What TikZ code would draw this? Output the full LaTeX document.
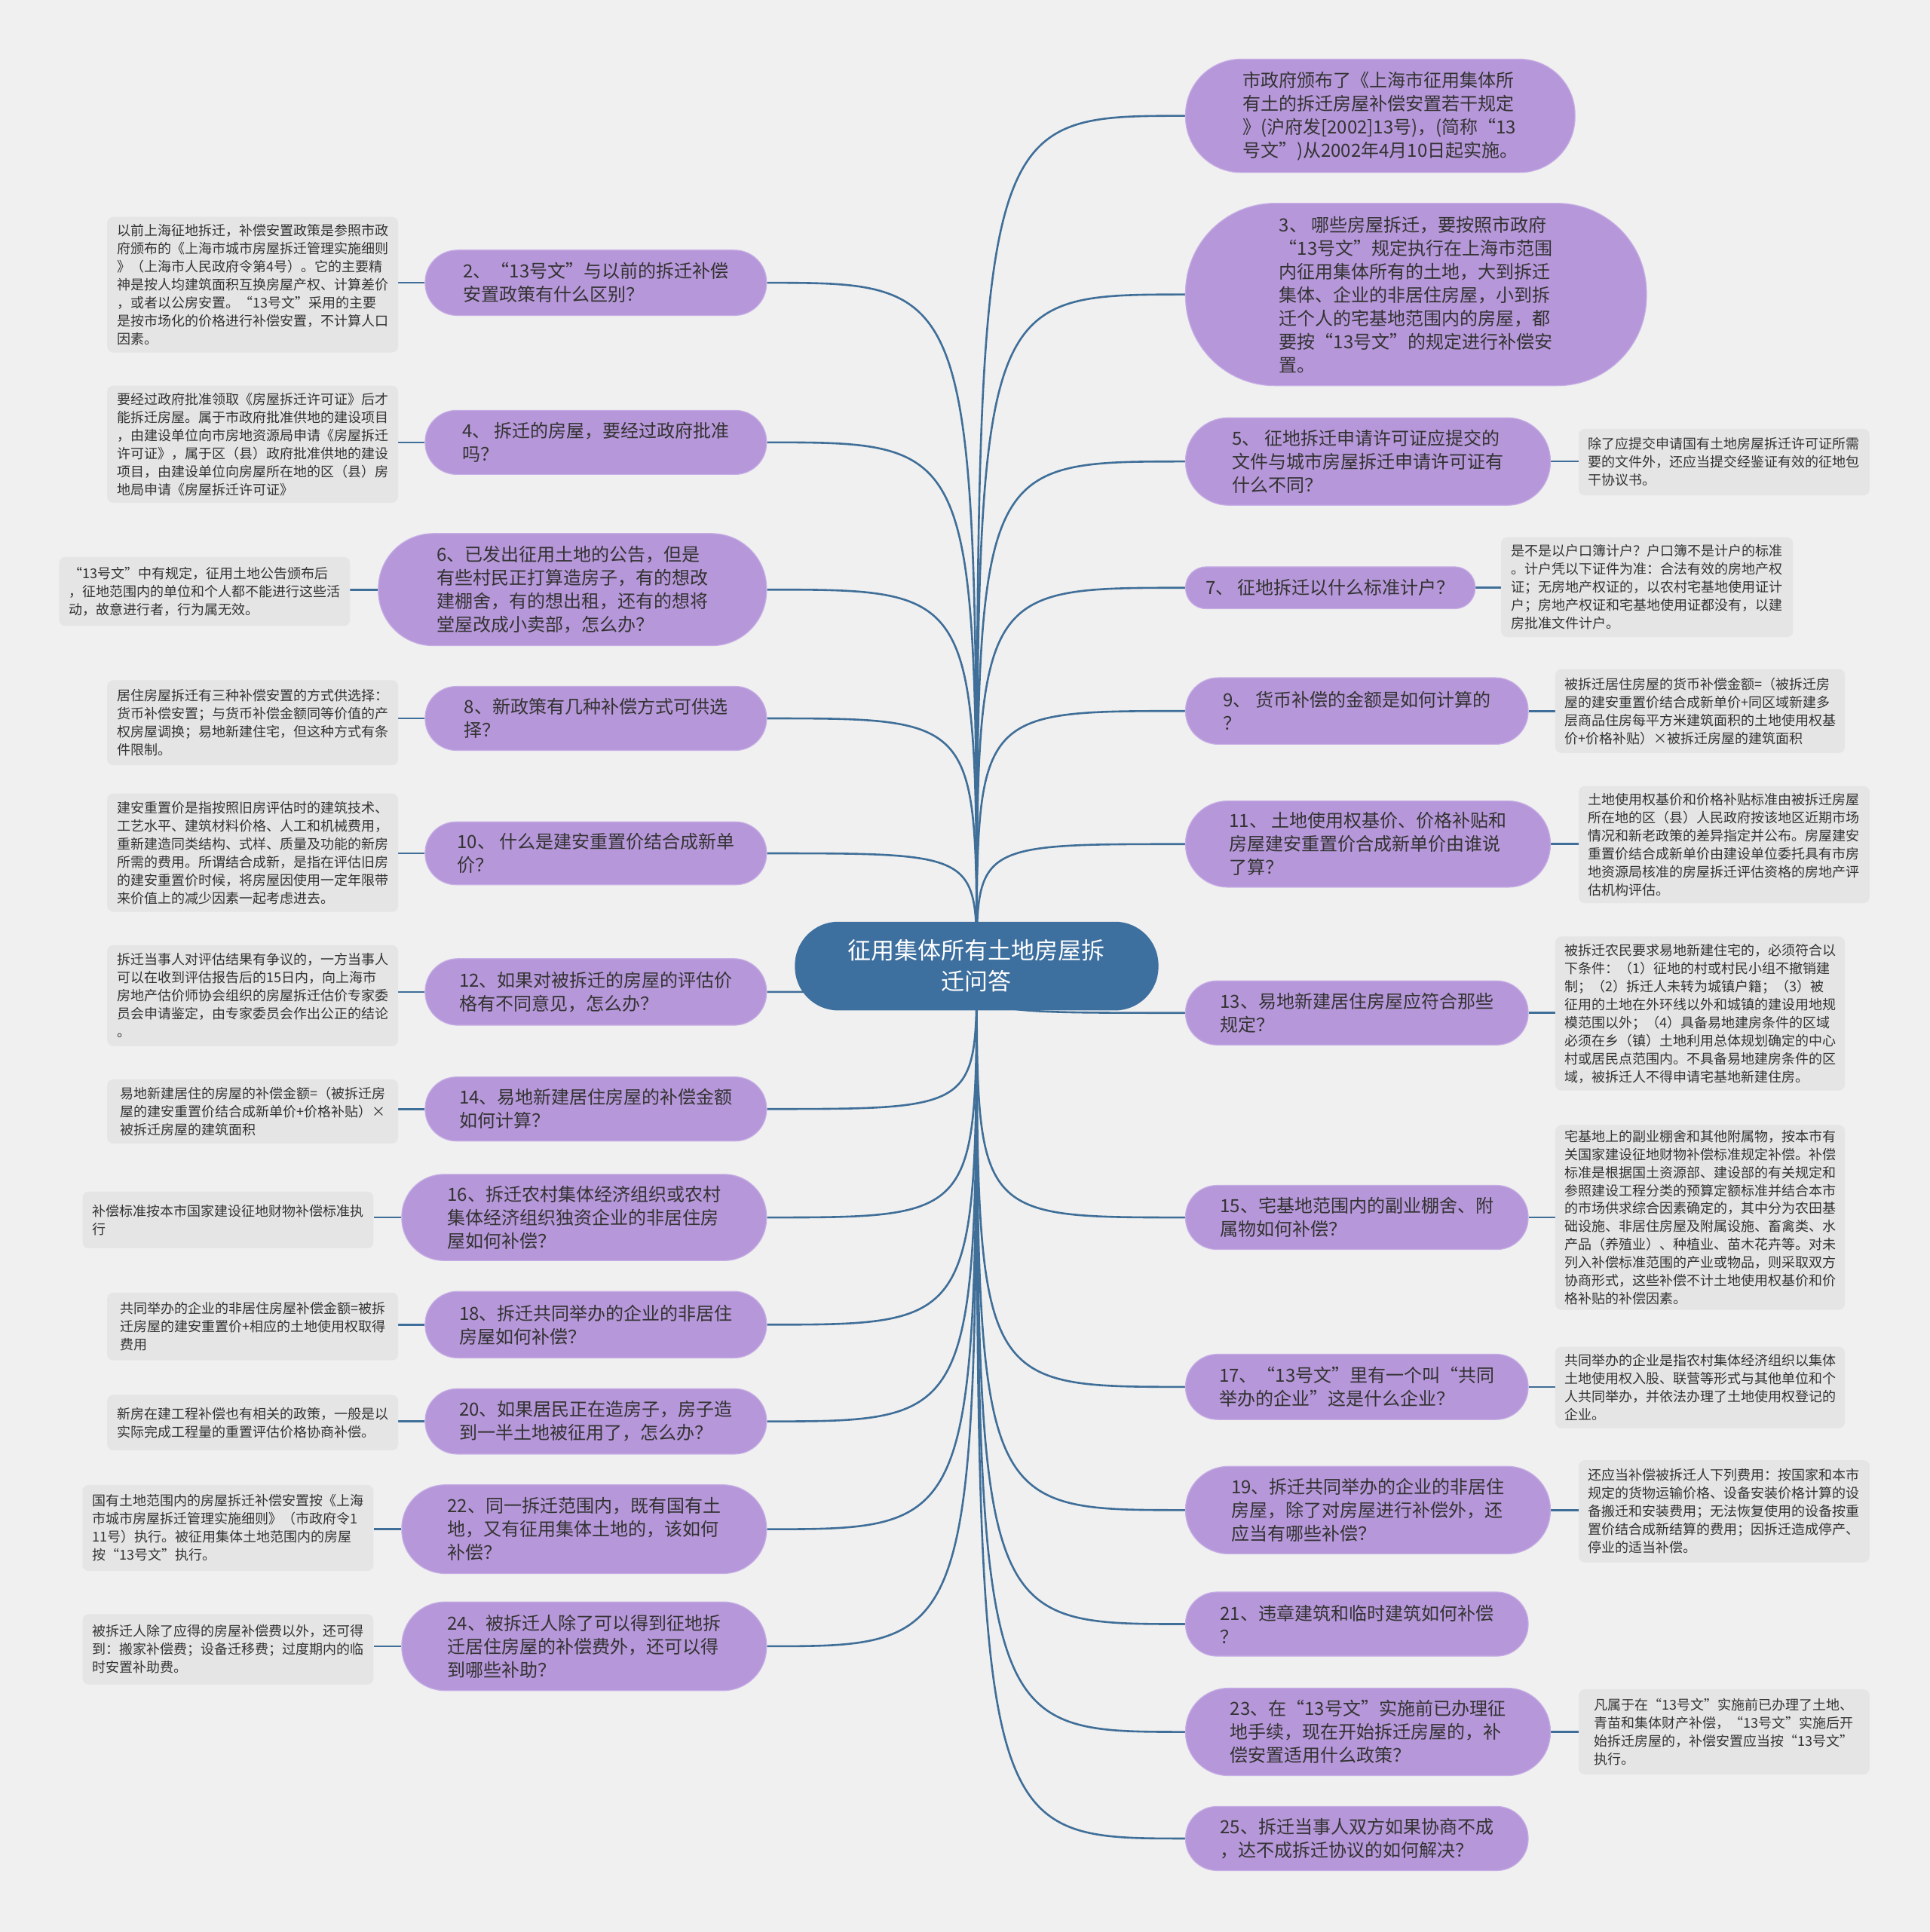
\documentclass[tikz,border=0pt]{standalone}
\usepackage{fontspec}
\setmainfont{Noto Sans CJK SC}
\definecolor{bgc}{HTML}{F0F0F0}
\definecolor{purp}{HTML}{B697D9}
\definecolor{purpline}{HTML}{C6AEE5}
\definecolor{notec}{HTML}{E5E5E5}
\definecolor{hubc}{HTML}{3D6F9F}
\definecolor{wirec}{HTML}{3F6E98}
\definecolor{txt}{HTML}{333333}
\pgfdeclarelayer{bglayer}
\pgfdeclarelayer{wirelayer}
\pgfsetlayers{bglayer,wirelayer,main}
\tikzset{
  qbox/.style 2 args={rectangle, fill=purp, draw=purpline, line width=1.2pt,
    minimum width=#1*1.63474pt, minimum height=#2*1.63474pt,
    rounded corners=#2*0.49*1.63474pt, inner sep=0pt, align=left, text=txt,
    font=\fontsize{24}{31}\selectfont},
  notebox/.style 2 args={rectangle, fill=notec,
    minimum width=#1*1.63474pt, minimum height=#2*1.63474pt,
    rounded corners=8pt, inner sep=0pt, align=left, text=txt,
    font=\fontsize{18}{24}\selectfont},
  hubbox/.style 2 args={rectangle, fill=hubc,
    minimum width=#1*1.63474pt, minimum height=#2*1.63474pt,
    rounded corners=#2*0.49*1.63474pt, inner sep=0pt, align=center, text=white,
    font=\fontsize{31}{41}\selectfont},
  wire/.style={draw=wirec, line width=2.6pt}
}
\begin{document}
\begin{tikzpicture}[x=1.63474pt,y=-1.63474pt]

\begin{pgfonlayer}{bglayer}
\fill[bgc] (0,0) rectangle (1566,1567.9);
\end{pgfonlayer}
\useasboundingbox (0,0) rectangle (1566,1567.9);

% hub
\node[hubbox={295}{72}] (hub) at (792.5,784) {征用集体所有土地房屋拆\\迁问答};

% right branches
\node[qbox={316}{92}] (r1) at (1120,94) {市政府颁布了《上海市征用集体所\\有土的拆迁房屋补偿安置若干规定\\》(沪府发[2002]13号)，(简称“13\\号文”)从2002年4月10日起实施。};
\node[qbox={374}{148}] (r3) at (1149,239) {3、 哪些房屋拆迁，要按照市政府\\“13号文”规定执行在上海市范围\\内征用集体所有的土地，大到拆迁\\集体、企业的非居住房屋，小到拆\\迁个人的宅基地范围内的房屋，都\\要按“13号文”的规定进行补偿安\\置。};
\node[qbox={296}{71}] (r5) at (1110,374.5) {5、 征地拆迁申请许可证应提交的\\文件与城市房屋拆迁申请许可证有\\什么不同？};
\node[qbox={235}{34}] (r7) at (1079.5,477) {7、 征地拆迁以什么标准计户？};
\node[qbox={278}{54}] (r9) at (1101,577) {9、 货币补偿的金额是如何计算的\\？};
\node[qbox={296}{70}] (r11) at (1110,685) {11、 土地使用权基价、价格补贴和\\房屋建安重置价合成新单价由谁说\\了算？};
\node[qbox={278}{52}] (r13) at (1101,822) {13、易地新建居住房屋应符合那些\\规定？};
\node[qbox={278}{52}] (r15) at (1101,988) {15、宅基地范围内的副业棚舍、附\\属物如何补偿？};
\node[qbox={278}{53}] (r17) at (1101,1125.5) {17、“13号文”里有一个叫“共同\\举办的企业”这是什么企业？};
\node[qbox={296}{71}] (r19) at (1110,1225.5) {19、拆迁共同举办的企业的非居住\\房屋，除了对房屋进行补偿外，还\\应当有哪些补偿？};
\node[qbox={278}{52}] (r21) at (1101,1318) {21、违章建筑和临时建筑如何补偿\\？};
\node[qbox={296}{71}] (r23) at (1110,1405.5) {23、在“13号文”实施前已办理征\\地手续，现在开始拆迁房屋的，补\\偿安置适用什么政策？};
\node[qbox={278}{52}] (r25) at (1101,1492) {25、拆迁当事人双方如果协商不成\\，达不成拆迁协议的如何解决？};

% left branches
\node[qbox={277}{53}] (l2) at (483.5,229.5) {2、“13号文”与以前的拆迁补偿\\安置政策有什么区别？};
\node[qbox={277}{52}] (l4) at (483.5,359) {4、 拆迁的房屋，要经过政府批准\\吗？};
\node[qbox={315}{91}] (l6) at (464.5,478.5) {6、已发出征用土地的公告，但是\\有些村民正打算造房子，有的想改\\建棚舍，有的想出租，还有的想将\\堂屋改成小卖部，怎么办？};
\node[qbox={277}{52}] (l8) at (483.5,583) {8、新政策有几种补偿方式可供选\\择？};
\node[qbox={277}{51}] (l10) at (483.5,692.5) {10、 什么是建安重置价结合成新单\\价？};
\node[qbox={277}{54}] (l12) at (483.5,805) {12、如果对被拆迁的房屋的评估价\\格有不同意见，怎么办？};
\node[qbox={277}{52}] (l14) at (483.5,900) {14、易地新建居住房屋的补偿金额\\如何计算？};
\node[qbox={296}{70}] (l16) at (474,988) {16、拆迁农村集体经济组织或农村\\集体经济组织独资企业的非居住房\\屋如何补偿？};
\node[qbox={277}{54}] (l18) at (483.5,1075) {18、拆迁共同举办的企业的非居住\\房屋如何补偿？};
\node[qbox={277}{53}] (l20) at (483.5,1153.5) {20、如果居民正在造房子，房子造\\到一半土地被征用了，怎么办？};
\node[qbox={296}{72}] (l22) at (474,1241) {22、同一拆迁范围内，既有国有土\\地，又有征用集体土地的，该如何\\补偿？};
\node[qbox={296}{72}] (l24) at (474,1336) {24、被拆迁人除了可以得到征地拆\\迁居住房屋的补偿费外，还可以得\\到哪些补助？};

% right notes
\node[notebox={236}{54}] (n5) at (1399,375) {除了应提交申请国有土地房屋拆迁许可证所需\\要的文件外，还应当提交经鉴证有效的征地包\\干协议书。};
\node[notebox={237}{81}] (n7) at (1336.5,476.5) {是不是以户口簿计户？户口簿不是计户的标准\\。计户凭以下证件为准：合法有效的房地产权\\证；无房地产权证的，以农村宅基地使用证计\\户；房地产权证和宅基地使用证都没有，以建\\房批准文件计户。};
\node[notebox={235}{68}] (n9) at (1379.5,577) {被拆迁居住房屋的货币补偿金额=（被拆迁房\\屋的建安重置价结合成新单价+同区域新建多\\层商品住房每平方米建筑面积的土地使用权基\\价+价格补贴）×被拆迁房屋的建筑面积};
\node[notebox={236}{95}] (n11) at (1399,685.5) {土地使用权基价和价格补贴标准由被拆迁房屋\\所在地的区（县）人民政府按该地区近期市场\\情况和新老政策的差异指定并公布。房屋建安\\重置价结合成新单价由建设单位委托具有市房\\地资源局核准的房屋拆迁评估资格的房地产评\\估机构评估。};
\node[notebox={235}{125}] (n13) at (1379.5,822.5) {被拆迁农民要求易地新建住宅的，必须符合以\\下条件：（1）征地的村或村民小组不撤销建\\制；（2）拆迁人未转为城镇户籍；（3）被\\征用的土地在外环线以外和城镇的建设用地规\\模范围以外；（4）具备易地建房条件的区域\\必须在乡（镇）土地利用总体规划确定的中心\\村或居民点范围内。不具备易地建房条件的区\\域，被拆迁人不得申请宅基地新建住房。};
\node[notebox={235}{150}] (n15) at (1379.5,988) {宅基地上的副业棚舍和其他附属物，按本市有\\关国家建设征地财物补偿标准规定补偿。补偿\\标准是根据国土资源部、建设部的有关规定和\\参照建设工程分类的预算定额标准并结合本市\\的市场供求综合因素确定的，其中分为农田基\\础设施、非居住房屋及附属设施、畜禽类、水\\产品（养殖业）、种植业、苗木花卉等。对未\\列入补偿标准范围的产业或物品，则采取双方\\协商形式，这些补偿不计土地使用权基价和价\\格补贴的补偿因素。};
\node[notebox={235}{66}] (n17) at (1379.5,1126) {共同举办的企业是指农村集体经济组织以集体\\土地使用权入股、联营等形式与其他单位和个\\人共同举办，并依法办理了土地使用权登记的\\企业。};
\node[notebox={236}{83}] (n19) at (1399,1226.5) {还应当补偿被拆迁人下列费用：按国家和本市\\规定的货物运输价格、设备安装价格计算的设\\备搬迁和安装费用；无法恢复使用的设备按重\\置价结合成新结算的费用；因拆迁造成停产、\\停业的适当补偿。};
\node[notebox={236}{69}] (n23) at (1399,1405.5) {凡属于在“13号文”实施前已办理了土地、\\青苗和集体财产补偿，“13号文”实施后开\\始拆迁房屋的，补偿安置应当按“13号文”\\执行。};

% left notes
\node[notebox={236}{110}] (n2) at (205,231) {以前上海征地拆迁，补偿安置政策是参照市政\\府颁布的《上海市城市房屋拆迁管理实施细则\\》（上海市人民政府令第4号）。它的主要精\\神是按人均建筑面积互换房屋产权、计算差价\\，或者以公房安置。“13号文”采用的主要\\是按市场化的价格进行补偿安置，不计算人口\\因素。};
\node[notebox={236}{95}] (n4) at (205,360.5) {要经过政府批准领取《房屋拆迁许可证》后才\\能拆迁房屋。属于市政府批准供地的建设项目\\，由建设单位向市房地资源局申请《房屋拆迁\\许可证》，属于区（县）政府批准供地的建设\\项目，由建设单位向房屋所在地的区（县）房\\地局申请《房屋拆迁许可证》};
\node[notebox={236}{56}] (n6) at (166,480) {“13号文”中有规定，征用土地公告颁布后\\，征地范围内的单位和个人都不能进行这些活\\动，故意进行者，行为属无效。};
\node[notebox={236}{69}] (n8) at (205,586.5) {居住房屋拆迁有三种补偿安置的方式供选择：\\货币补偿安置；与货币补偿金额同等价值的产\\权房屋调换；易地新建住宅，但这种方式有条\\件限制。};
\node[notebox={236}{96}] (n10) at (205,692) {建安重置价是指按照旧房评估时的建筑技术、\\工艺水平、建筑材料价格、人工和机械费用，\\重新建造同类结构、式样、质量及功能的新房\\所需的费用。所谓结合成新，是指在评估旧房\\的建安重置价时候，将房屋因使用一定年限带\\来价值上的减少因素一起考虑进去。};
\node[notebox={236}{82}] (n12) at (205,808) {拆迁当事人对评估结果有争议的，一方当事人\\可以在收到评估报告后的15日内，向上海市\\房地产估价师协会组织的房屋拆迁估价专家委\\员会申请鉴定，由专家委员会作出公正的结论\\。};
\node[notebox={236}{52}] (n14) at (205,902) {易地新建居住的房屋的补偿金额=（被拆迁房\\屋的建安重置价结合成新单价+价格补贴）×\\被拆迁房屋的建筑面积};
\node[notebox={236}{46}] (n16) at (185,990) {补偿标准按本市国家建设征地财物补偿标准执\\行};
\node[notebox={236}{55}] (n18) at (205,1076.5) {共同举办的企业的非居住房屋补偿金额=被拆\\迁房屋的建安重置价+相应的土地使用权取得\\费用};
\node[notebox={236}{45}] (n20) at (205,1154.5) {新房在建工程补偿也有相关的政策，一般是以\\实际完成工程量的重置评估价格协商补偿。};
\node[notebox={236}{70}] (n22) at (185,1240) {国有土地范围内的房屋拆迁补偿安置按《上海\\市城市房屋拆迁管理实施细则》（市政府令1\\11号）执行。被征用集体土地范围内的房屋\\按“13号文”执行。};
\node[notebox={236}{57}] (n24) at (185,1338.5) {被拆迁人除了应得的房屋补偿费以外，还可得\\到：搬家补偿费；设备迁移费；过度期内的临\\时安置补助费。};

\begin{pgfonlayer}{wirelayer}
\foreach \b in {r1,r3,r5,r7,r9,r11,r13,r15,r17,r19,r21,r23,r25}
  \draw[wire] (hub.center) .. controls (hub.center |- \b.west) .. (\b.west);
\foreach \b in {l2,l4,l6,l8,l10,l12,l14,l16,l18,l20,l22,l24}
  \draw[wire] (hub.center) .. controls (hub.center |- \b.east) .. (\b.east);
\foreach \b/\n in {r5/n5,r7/n7,r9/n9,r11/n11,r13/n13,r15/n15,r17/n17,r19/n19,r23/n23}
  \draw[wire] (\b.east) -- (\b.east -| \n.west);
\foreach \b/\n in {l2/n2,l4/n4,l6/n6,l8/n8,l10/n10,l12/n12,l14/n14,l16/n16,l18/n18,l20/n20,l22/n22,l24/n24}
  \draw[wire] (\b.west) -- (\b.west -| \n.east);
\end{pgfonlayer}
\end{tikzpicture}
\end{document}
